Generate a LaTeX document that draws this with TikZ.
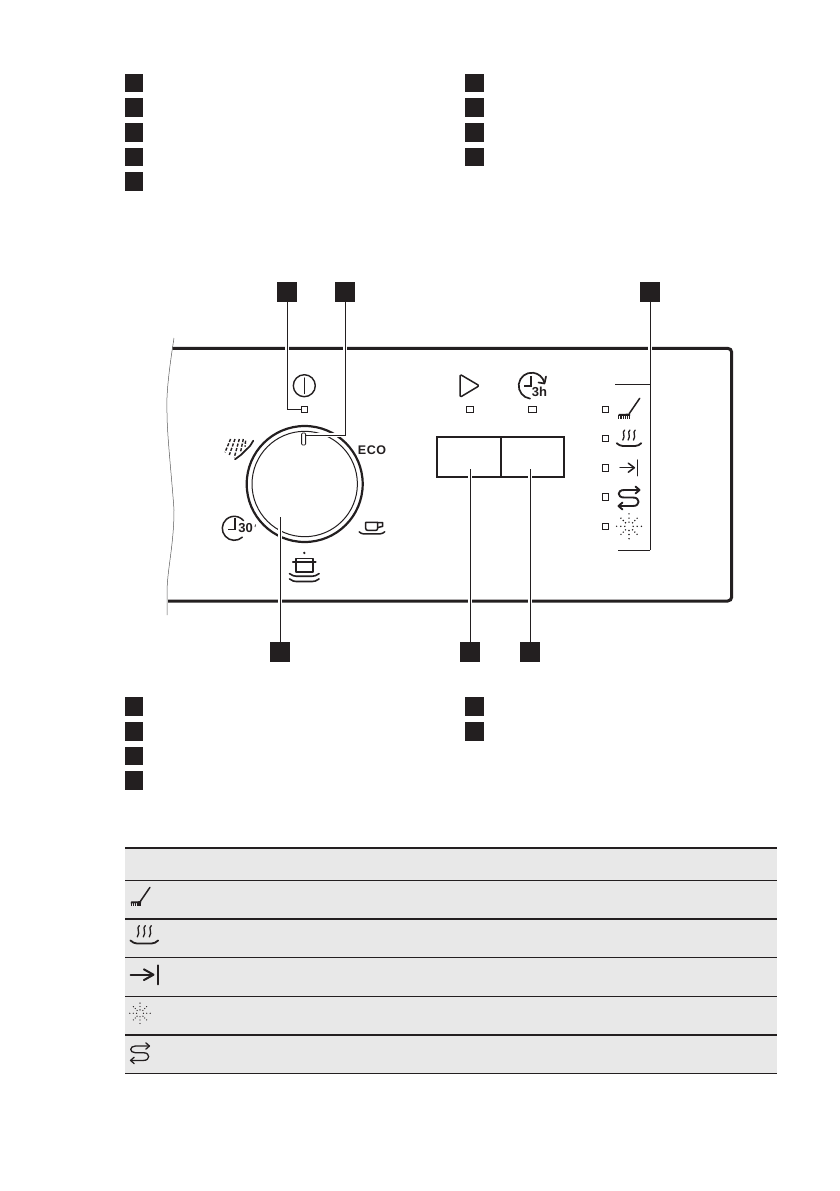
\documentclass[tikz,border=0pt]{standalone}
\usepackage{fontspec}
\setmainfont{Liberation Sans}
\newfontfamily\ecofont[LetterSpace=5]{Liberation Sans}
\definecolor{ink}{HTML}{231F20}
\definecolor{tablegrey}{HTML}{E8E8E8}
\tikzset{
  callout/.style={fill=ink,draw=none,minimum width=20pt,minimum height=20pt,inner sep=0pt,outer sep=0pt},
  legendbox/.style={fill=ink,draw=none,minimum width=18.5pt,minimum height=18.5pt,inner sep=0pt,outer sep=0pt},
  leader/.style={draw=ink,line width=0.9pt,preaction={draw=white,line width=3.6pt}},
  lamp/.style={draw=ink,line width=0.8pt,fill=white,minimum width=6.5pt,minimum height=6.5pt,inner sep=0pt,outer sep=0pt},
  icon/.style={draw=ink,line width=1.5pt,line cap=round,line join=round},
  icontext/.style={font=\fontsize{13}{14}\selectfont\bfseries,text=ink,inner sep=0pt},
  heavyrule/.style={draw=ink,line width=2pt},
  lightrule/.style={draw=ink,line width=1pt}
}
\newcommand{\iconbrush}{%
  \draw[icon] (10.7,-10.7) -- (0.3,4.5);
  \fill[ink] (-10.2,5) -- (1,4.6) -- (1,6.8) -- (-10.7,7) -- cycle;
  \foreach \xx in {-10.2,-8,-5.8,-3.6,-1.4,0.6}{\draw[ink,line width=1.1pt] (\xx,6) -- (\xx,10.3);}
}
\newcommand{\iconheat}{%
  \foreach \xx in {-5.3,0,5.3}{
    \draw[ink,line width=1.3pt,line cap=round] (\xx+0.9,-8.3) .. controls (\xx-2.4,-6) and (\xx+2.4,-3) .. (\xx-0.9,1.7);}
  \draw[ink,line width=1.8pt,line cap=round,line join=round] (-12.3,4.8) .. controls (-10,6.5) and (-9,7.5) .. (-6.5,7.5) -- (6.5,7.5) .. controls (9,7.5) and (10,6.5) .. (12.3,4.8);
}
\newcommand{\iconarrowbar}[1][1.5pt]{%
  \draw[icon,line width=#1] (-9,0) -- (5,0);
  \draw[icon,line width=#1] (-0.7,-4.5) -- (5.3,0) -- (-0.7,4.5);
  \draw[icon,line width=#1] (8.3,-7.7) -- (8.3,8);
}
\newcommand{\iconloop}[1][1.9pt]{%
  \draw[icon,line width=#1] (10,-7) -- (-5,-7) .. controls (-12,-7) and (-12,0.5) .. (-5,0.5) -- (4,0.5) .. controls (11.5,0.5) and (11.5,9) .. (4,9) -- (-10,9);
  \draw[icon,line width=#1] (6.5,-10.5) -- (10.5,-7) -- (6.5,-3.5);
  \draw[icon,line width=#1] (-6.5,5.5) -- (-10.5,9) -- (-6.5,12.5);
}
\newcommand{\iconspark}{%
  \foreach \aa in {0,90,180,270}{
    \foreach \rr in {4.2,8.2,12.4}{\fill[ink] (\aa:\rr) circle (0.8);}}
  \foreach \aa in {45,135,225,315}{
    \foreach \rr in {5,8.2,11.4}{\fill[ink] (\aa:\rr) circle (0.8);}}
}
\begin{document}
\begin{tikzpicture}[x=1pt,y=-1pt]
\useasboundingbox (0,0) rectangle (839,1191);
\fill[white] (0,0) rectangle (839,1191);

% upper legend
\foreach \nm/\yy in {a/83,b/107.5,c/132.5,d/157,e/181.5}{
  \node[legendbox] (top\nm) at (134,\yy) {};}
\foreach \nm/\yy in {f/83,g/107.5,h/132.5,i/157}{
  \node[legendbox,minimum width=19pt] (top\nm) at (474.5,\yy) {};}

% lower legend
\foreach \nm/\yy in {a/706.5,b/731.5,c/756,d/780.5}{
  \node[legendbox] (low\nm) at (134,\yy) {};}
\foreach \nm/\yy in {e/706.5,f/731.5}{
  \node[legendbox,minimum width=19pt] (low\nm) at (474.5,\yy) {};}

% panel
\draw[gray!70!black,line width=0.5pt] (174,338) .. controls (169,370) and (166,395) .. (167,413) .. controls (167,435) and (172,480) .. (174,510) .. controls (174,545) and (167,570) .. (167,593) -- (167,615);
\draw[draw=ink,line width=3pt,rounded corners=4pt] (172.5,348.3) -- (731.7,348.3) -- (731.7,601) -- (168,601);

% dial
\draw[ink,line width=2.2pt] (304.7,484) circle (58);
\draw[ink,line width=1pt] (304.7,484) circle (52.7);

% buttons
\draw[ink,line width=2pt,line join=miter] (437,437) rectangle (564,477);
\draw[ink,line width=2pt] (500.5,437) -- (500.5,477);

% lamps
\node[lamp] (lamppower) at (304.3,409.5) {};
\node[lamp,minimum width=7.5pt] (lampstart) at (470,409.5) {};
\node[lamp,minimum width=7.5pt] (lampdelay) at (532.5,409.5) {};
\foreach \nm/\yy in {a/409.3,b/438.4,c/467.7,d/497,e/526.3}{
  \node[lamp] (opt\nm) at (605.5,\yy) {};}

% callouts
\node[callout] (c1) at (287,292) {};
\node[callout] (c2) at (345,292) {};
\node[callout] (c3) at (650,292) {};
\node[callout] (c4) at (280,652) {};
\node[callout] (c5) at (470,652) {};
\node[callout] (c6) at (530,652) {};

% leaders
\coordinate (dialpoint) at (c4.north |- 0,516.5);
\coordinate (btnone) at (c5.north |- 0,469);
\coordinate (btntwo) at (c6.north |- 0,469);
\coordinate (bracktop) at (615,384.3);
\coordinate (brackbot) at (618,550);
\coordinate (brackmid) at (c3.south |- bracktop);
\coordinate (brackend) at (c3.south |- brackbot);
\coordinate (markertop) at (305.5,435);
\draw[leader] (c1.south) |- (lamppower.west);
\draw[leader] (c2.south) |- (markertop);
\draw[leader] (c4.north) -- (dialpoint);
\draw[leader] (c5.north) -- (btnone);
\draw[leader] (c6.north) -- (btntwo);
\draw[leader] (c3.south) -- (brackend);
\draw[ink,line width=0.9pt] (brackmid) -- (bracktop);
\draw[ink,line width=0.9pt] (brackend) -- (brackbot);
\node[draw=ink,line width=0.8pt,fill=white,rounded corners=1pt,minimum width=4pt,minimum height=12pt,inner sep=0pt,outer sep=0pt] (marker) at (303.6,439) {};

% power symbol
\draw[icon,line width=1.4pt] (304.3,385.7) circle (11);
\draw[icon,line width=1.4pt] (304.3,378) -- (304.3,393.5);

% start triangle
\draw[icon,rounded corners=1.5pt] (460,374.3) -- (479.3,385.7) -- (460,397.3) -- cycle;

% delay 3h
\draw[icon,line width=1.7pt] (531.7,385.7) ++(97:13) arc[start angle=97,end angle=345,radius=13];
\draw[icon,line width=1.7pt] (538.5,382.5) -- (544.5,383.5) -- (546,376.5);
\draw[icon,line width=1.7pt,line join=miter,line cap=butt] (530.7,376) -- (530.7,385.9) -- (524.3,385.9);
\node[icontext,fill=white,inner sep=0.5pt] (lbl3h) at (539.5,392) {3h};

% ECO
\node[icontext,font=\ecofont\fontsize{12.5}{13}\selectfont\bfseries] (lbleco) at (372,450) {ECO};

% spray
\begin{scope}[shift={(238.3,449)}]
  \foreach \xa/\ya/\xb/\yb in {-7.7/-10/-13.3/3.3,-3.3/-10/-9/6,1/-10/-4/8.3,5/-10/2.3/2.7,7.3/-8.3/6.7/-2.3}{
    \draw[ink,line width=1.4pt,dash pattern=on 3.2pt off 1.5pt] (\xa,\ya) -- (\xb,\yb);}
  \draw[icon,line width=1.7pt] (15,-8.3) -- (11.7,-3) -- (2.5,6) -- (-3.3,10.3);
\end{scope}

% 30 minutes
\draw[icon,line width=1.5pt] (234.3,528.3) ++(48:12) arc[start angle=48,end angle=320,radius=12];
\draw[icon,line width=1.5pt,line join=miter,line cap=butt] (235,518.3) -- (235,529.3) -- (228.3,529.3);
\node[icontext,fill=white,inner sep=0.5pt] (lbl30) at (245.7,528.5) {30};
\draw[ink,line width=0.7pt] (255.5,524.5) -- (255,527);

% cup
\begin{scope}[shift={(371.7,528.3)}]
  \draw[icon] (-6,-6) -- (6,-6) -- (6,0) .. controls (6,1.6) and (5,2) .. (4,2) -- (-4,2) .. controls (-5,2) and (-6,1.6) .. (-6,0) -- cycle;
  \draw[icon] (6,-5.7) -- (11,-5.7) -- (11,-2) -- (6,-0.7);
  \draw[icon] (-12.5,3.5) .. controls (-11,4.8) and (-10,5.5) .. (-8.5,5.5) -- (8.5,5.5) .. controls (10,5.5) and (11.5,4.8) .. (13,3.5);
\end{scope}

% pot
\begin{scope}[shift={(304.3,566.9)}]
  \fill[ink] (0,-14) circle (1.3);
  \draw[icon,line width=1.6pt] (-8.3,-5) -- (-8.3,-8.6) -- (8.7,-8.6) -- (8.7,-5);
  \draw[icon,line width=1.6pt] (-11.5,-5) -- (11.5,-5);
  \draw[icon,line width=1.6pt] (-8.3,-5) -- (-8.3,5) -- (8.7,5) -- (8.7,-5);
  \draw[icon,line width=1.6pt] (-14.8,6.7) .. controls (-12,8.8) and (-10,9.3) .. (-8,9.3) -- (8,9.3) .. controls (10,9.3) and (12,8.8) .. (14.8,6.7);
  \draw[icon,line width=1.6pt] (-14.8,12) .. controls (-12,14.1) and (-10,14.6) .. (-8,14.6) -- (8,14.6) .. controls (10,14.6) and (12,14.1) .. (14.8,12);
\end{scope}

% option icons on panel
\begin{scope}[shift={(629,409)}]\iconbrush\end{scope}
\begin{scope}[shift={(629,438.4)}]\iconheat\end{scope}
\begin{scope}[shift={(629,467.7)}]\iconarrowbar\end{scope}
\begin{scope}[shift={(629,497)}]\iconloop\end{scope}
\begin{scope}[shift={(629,526.3)}]\iconspark\end{scope}

% table
\fill[tablegrey] (125,848) rectangle (776.7,1073.3);
\draw[heavyrule] (125,848) -- (776.7,848);
\draw[lightrule] (125,880.3) -- (776.7,880.3);
\draw[heavyrule] (125,919) -- (776.7,919);
\draw[lightrule] (125,957.3) -- (776.7,957.3);
\draw[lightrule] (125,996) -- (776.7,996);
\draw[heavyrule] (125,1034.7) -- (776.7,1034.7);
\draw[lightrule] (125,1073.3) -- (776.7,1073.3);

\begin{scope}[shift={(140.3,897)},scale=0.9]\iconbrush\end{scope}
\begin{scope}[shift={(144.3,935)},scale=1.13]\iconheat\end{scope}
\begin{scope}[shift={(145,974.7)},xscale=1.6,yscale=1.2]\iconarrowbar[2pt]\end{scope}
\begin{scope}[shift={(140,1013.3)},scale=0.82]\iconspark\end{scope}
\begin{scope}[shift={(140,1052.3)},scale=0.9]\iconloop[1.3pt]\end{scope}
\end{tikzpicture}
\end{document}
